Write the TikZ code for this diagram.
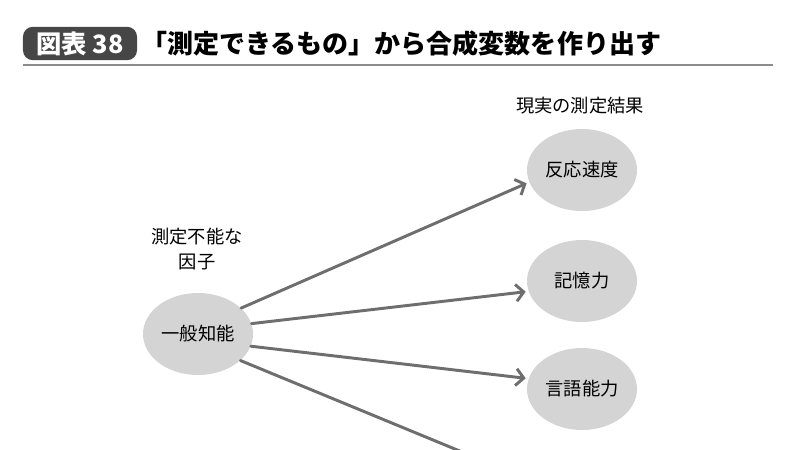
\documentclass[tikz,border=0pt]{standalone}
\usepackage{fontspec}
\usetikzlibrary{shapes.geometric,arrows.meta}
\newfontfamily\jpfont{Noto Sans CJK JP}
\definecolor{badgegray}{HTML}{464646}
\definecolor{rulegray}{HTML}{8C8C8C}
\definecolor{arrowgray}{HTML}{6E6E6E}
\definecolor{blobgray}{HTML}{D4D4D4}
\tikzset{
  blob/.style={ellipse, fill=blobgray, minimum width=2.75cm, minimum height=2.05cm,
    inner sep=0pt, font=\jpfont\fontsize{13}{15}\selectfont},
  link/.style={draw=arrowgray, line width=2.1pt, line cap=round,
    -{Straight Barb[length=5.5pt,width=12pt]}, shorten >=2pt},
  note/.style={font=\jpfont\fontsize{13}{18}\selectfont, align=center},
}
\begin{document}
\begin{tikzpicture}[x=0.025cm, y=-0.025cm]
  \useasboundingbox (0, 0) rectangle (800, 449);
  \clip (0, 0) rectangle (800, 449);
  % heading
  \node[fill=badgegray, rounded corners=7pt, minimum width=2.85cm, minimum height=0.83cm,
    text=white, font=\jpfont\bfseries\fontsize{18}{20}\selectfont] (badge) at (80, 43.5) {図表 38};
  \node[anchor=west, inner sep=0pt, font=\jpfont\bfseries\fontsize{18.5}{20}\selectfont] (title) at (141, 44)
    {「測定できるもの」から合成変数を作り出す};
  \draw[rulegray, line width=1.6pt] (23, 65) -- (773, 65);
  % factor and measurements
  \node[blob] (g) at (198, 334) {一般知能};
  \node[note] (glabel) at (197, 249) {測定不能な\\因子};
  \node[note] (mlabel) at (580, 106) {現実の測定結果};
  \node[blob] (speed) at (582, 170) {反応速度};
  \node[blob] (memory) at (582, 281) {記憶力};
  \node[blob] (verbal) at (582, 389) {言語能力};
  \coordinate (offpage) at (530, 480);
  \draw[link] (g.31) -- (speed.193);
  \draw[link] (g.11) -- (memory.191);
  \draw[link] (g.-13) -- (verbal.169);
  \draw[link] (g.-32) -- (offpage);
\end{tikzpicture}
\end{document}
